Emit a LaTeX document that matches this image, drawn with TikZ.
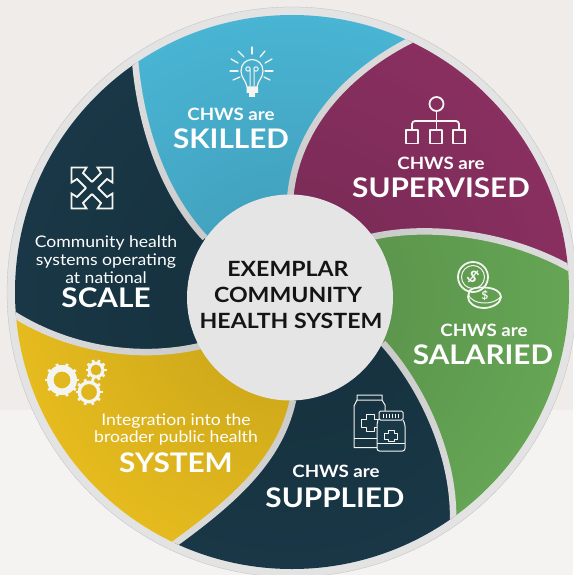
\documentclass[tikz,border=0pt]{standalone}
\usepackage{fontspec}
\setmainfont{Lato}[FakeStretch=1.1]
\usetikzlibrary{fadings,calc}
\definecolor{bgtop}{HTML}{EFECE9}
\definecolor{bgbot}{HTML}{F4F3F1}
\definecolor{ring}{HTML}{E3E3E3}
\definecolor{hub}{HTML}{E5E5E5}
\definecolor{cblue}{HTML}{4BB8D8}
\definecolor{cpurple}{HTML}{8C3163}
\definecolor{cgreen}{HTML}{68A957}
\definecolor{cnavy}{HTML}{1A3948}
\definecolor{cyellow}{HTML}{EBC01F}
\definecolor{icon}{HTML}{F4F4F0}
\tikzfading[name=centerdark, inner color=transparent!84, outer color=transparent!100]
\tikzset{
  sepline/.style={draw=ring,line width=6.5pt},
  small/.style={text=white,font=\fontsize{16}{18}\selectfont,inner sep=0pt},
  smallb/.style={text=white,font=\fontsize{17}{18}\selectfont\bfseries,inner sep=0pt},
  big/.style={text=white,font=\fontsize{27}{28}\selectfont\bfseries,inner sep=0pt},
  hubtxt/.style={text=black!92,font=\fontsize{21}{22}\selectfont\bfseries,inner sep=0pt},
  iconline/.style={draw=icon,line width=1.8pt,line join=round,line cap=round},
  thinicon/.style={draw=icon,line width=1pt,line join=round},
}
\newcommand{\gearicon}[4]{% x y outer-radius hole-radius
  \fill[icon,even odd rule] (#1,#2) circle (#3-2) (#1,#2) circle (#4);
  \foreach \a in {0,36,...,324}{
    \draw[icon,line width=2.8pt] ($(#1,#2)+(\a:#3-3)$) -- ($(#1,#2)+(\a:#3)$);
  }
}
\begin{document}
\begin{tikzpicture}[x=1pt,y=-1pt]
\useasboundingbox (0,0) rectangle (573,575);
\fill[bgtop] (0,0) rectangle (573,410);
\fill[bgbot] (0,410) rectangle (573,575);
\fill[ring,draw=black!25,line width=0.3pt] (292,292) circle (285);
\begin{scope}
  \clip (292,292) circle (277);
  % sectors
  \fill[cblue] (205,238) .. controls (160,190) and (140,120) .. (135,60)
     -- (130,-60) -- (420,-60) -- (415,38)
     .. controls (345,72) and (295,130) .. (290,200) -- cycle;
  \fill[cpurple] (290,200) .. controls (295,130) and (345,72) .. (415,38)
     -- (420,-60) -- (640,-60) -- (640,280) -- (576,272)
     .. controls (510,232) and (420,222) .. (360,240) -- cycle;
  \fill[cgreen] (360,240) .. controls (420,222) and (510,232) .. (576,272)
     -- (640,280) -- (640,640) -- (460,640) -- (453,522)
     .. controls (455,460) and (425,390) .. (383,343) -- cycle;
  \fill[cnavy] (383,343) .. controls (425,390) and (455,460) .. (453,522)
     -- (460,640) -- (160,640) -- (173,545)
     .. controls (235,500) and (280,460) .. (293,400) -- cycle;
  \fill[cyellow] (293,400) .. controls (280,460) and (235,500) .. (173,545)
     -- (160,640) -- (-60,640) -- (-60,310) -- (13,314)
     .. controls (70,350) and (140,360) .. (200,346) -- cycle;
  \fill[cnavy] (200,346) .. controls (140,360) and (70,350) .. (13,314)
     -- (-60,310) -- (-60,-60) -- (130,-60) -- (135,60)
     .. controls (140,120) and (160,190) .. (205,238) -- cycle;
  % separators
  \draw[sepline] (205,238) .. controls (160,190) and (140,120) .. (135,60);
  \draw[sepline] (290,200) .. controls (295,130) and (345,72) .. (415,38);
  \draw[sepline] (360,240) .. controls (420,222) and (510,232) .. (576,272);
  \draw[sepline] (383,343) .. controls (425,390) and (455,460) .. (453,522);
  \draw[sepline] (293,400) .. controls (280,460) and (235,500) .. (173,545);
  \draw[sepline] (200,346) .. controls (140,360) and (70,350) .. (13,314);
  \fill[black,path fading=centerdark] (290,297) circle (320);
\end{scope}
\fill[hub] (290,297.5) circle (103);
% hub text
\node[hubtxt] (hub1) at (288,268.5) {EXEMPLAR};
\node[hubtxt] (hub2) at (288,295) {COMMUNITY};
\node[hubtxt] (hub3) at (291,320.5) {HEALTH SYSTEM};
% skilled
\node[smallb] (sk1) at (231,114) {CHWS are};
\node[big] (sk2) at (231,139) {SKILLED};
% supervised
\node[smallb] (su1) at (441,163) {CHWS are};
\node[big] (su2) at (441,188) {SUPERVISED};
% salaried
\node[smallb] (sa1) at (484,330) {CHWS are};
\node[big] (sa2) at (483,355) {SALARIED};
% supplied
\node[smallb] (sp1) at (336,471) {CHWS are};
\node[big] (sp2) at (335,498) {SUPPLIED};
% system
\node[small] (sy1) at (176,421) {Integration into the};
\node[small] (sy2) at (176,438) {broader public health};
\node[big] (sy3) at (176,463) {SYSTEM};
% scale
\node[small] (sc1) at (106,243) {Community health};
\node[small] (sc2) at (106,261) {systems operating};
\node[small] (sc3) at (106,278) {at national};
\node[big] (sc4) at (106,298) {SCALE};
% bulb
\draw[iconline,line width=1.2pt] (247,87) .. controls (246,80) and (241,78) .. (241,71)
   .. controls (241,64) and (246,59.5) .. (252,59.5)
   .. controls (258,59.5) and (263,64) .. (263,71)
   .. controls (263,78) and (258,80) .. (257,87) -- cycle;
\draw[thinicon] (248,69) circle (2.2) (256,69) circle (2.2) (250,70) -- (250,86) (254,70) -- (254,86);
\fill[icon] (246.5,87) rectangle (258,93) (249,93) rectangle (255,97);
\foreach \ax/\ay/\bx/\by in {252/47/252/54, 238/51/244/57, 265/51/260/57, 231/59/238/63, 272/59/265/63,
   230/71/238/71, 273/71/265/71, 233/80/240/77, 270/80/264/77}
  \draw[iconline,line width=1.3pt] (\ax,\ay) -- (\bx,\by);
% org chart
\draw[iconline] (436.5,104) circle (7);
\draw[iconline] (436.5,111) -- (436.5,130);
\draw[iconline] (412,130) -- (412,124) arc[start angle=180,end angle=270,radius=3] -- (456,121) arc[start angle=270,end angle=360,radius=3] -- (459,130);
\draw[iconline] (406,130) rectangle (418,143.5);
\draw[iconline] (430,130) rectangle (442,143.5);
\draw[iconline] (453,130) rectangle (465,143.5);
% coins
\draw[iconline] (473,277) circle (15);
\draw[iconline,line width=1pt] (473,277) circle (11.5);
\node[text=icon,rotate=-35,font=\fontsize{16}{16}\selectfont\bfseries,inner sep=0pt] (d1) at (473,277) {\$};
\draw[iconline] (469,293) .. controls (468,289) and (476,287) .. (485,287.5)
   .. controls (495,288) and (501,292) .. (501,297)
   .. controls (501,303) and (492,308) .. (484,308)
   .. controls (475,308) and (468,303) .. (468,297) -- (469,293);
\draw[iconline,line width=1pt] (468,294) .. controls (470,300) and (477,303) .. (485,303)
   .. controls (493,303) and (500,299) .. (501,296);
\node[text=icon,font=\fontsize{11}{11}\selectfont\bfseries,inner sep=0pt] (d2) at (485,296) {\$};
% bottles
\draw[thinicon] (357,400) -- (357,395) -- (382,395) -- (382,400) -- (385,405) -- (385,411);
\draw[thinicon] (377,447.5) -- (354,447.5) -- (354,406) -- (357,400) -- (382,400);
\draw[thinicon] (354,438) -- (377,438);
\draw[thinicon] (366,414.5) -- (374,414.5) -- (374,419) -- (379,419) -- (379,427) -- (374,427)
   -- (374,431.5) -- (366,431.5) -- (366,427) -- (361,427) -- (361,419) -- (366,419) -- cycle;
\fill[cnavy] (377,420) rectangle (405,451);
\draw[thinicon,rounded corners=1.5pt] (379,411) rectangle (403,420);
\draw[thinicon,rounded corners=2.5pt] (378,420) -- (377,424) -- (377,451) -- (405,451) -- (405,424) -- (403,420);
\draw[thinicon] (377,443) -- (405,443);
\foreach \tx in {383,386,389,392,395,398}
  \draw[icon,line width=0.8pt] (\tx,413.5) -- (\tx,417.5);
\draw[thinicon] (388,430.5) -- (394,430.5) -- (394,433) -- (397.5,433) -- (397.5,439) -- (394,439)
   -- (394,441.5) -- (388,441.5) -- (388,439) -- (384.5,439) -- (384.5,433) -- (388,433) -- cycle;
% gears
\gearicon{62}{380}{17}{8.5}
\gearicon{89}{392}{13.5}{8}
\gearicon{96}{370}{10.5}{5.5}
% arrows
\begin{scope}[shift={(92,188)}]
\foreach \r in {0,90,180,270}{
  \begin{scope}[rotate=\r]
    \draw[icon,line width=1.8pt,line join=miter] (0,-6) -- (-9,-15) -- (-5.5,-20.5) -- (-20.5,-20.5) -- (-20.5,-5.5) -- (-15,-9) -- (-6,0);
  \end{scope}
}
\end{scope}
\end{tikzpicture}
\end{document}
